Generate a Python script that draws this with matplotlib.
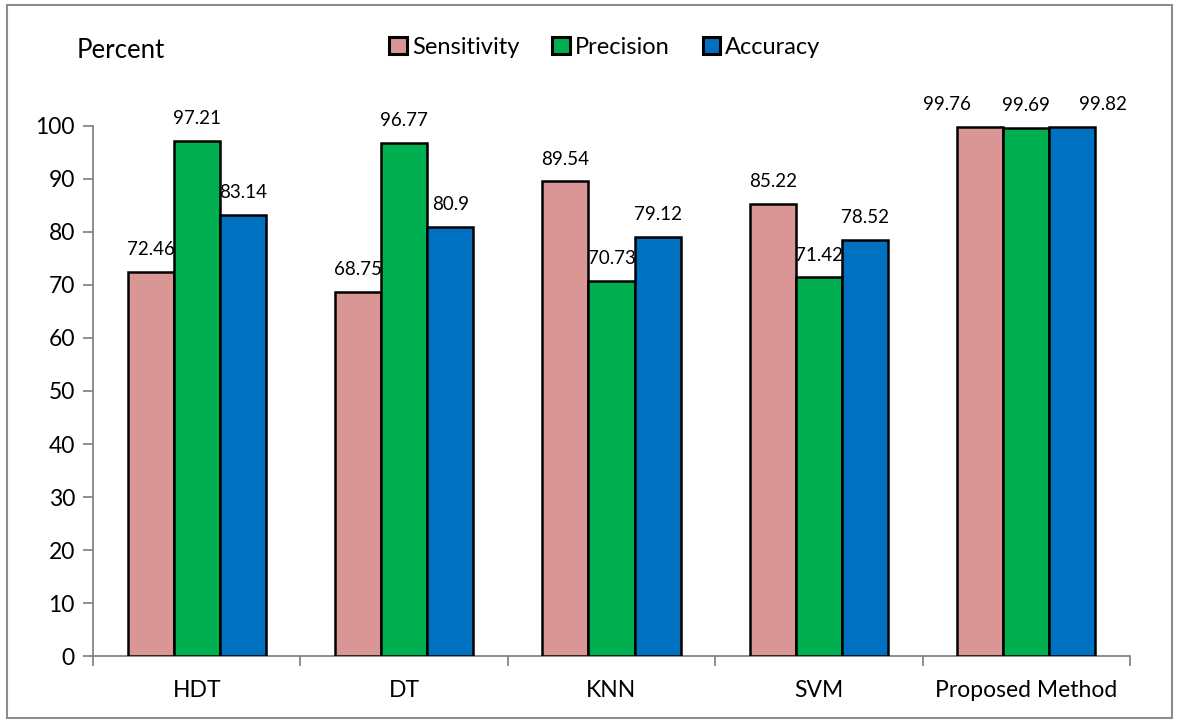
import numpy as np
import matplotlib.pyplot as plt
from matplotlib.patches import Rectangle

plt.rcParams['font.family'] = ['Lato', 'DejaVu Sans']

metodos = ['HDT', 'DT', 'KNN', 'SVM', 'Proposed Method']
sensitivity = [72.46, 68.75, 89.54, 85.22, 99.76]
precision = [97.21, 96.77, 70.73, 71.42, 99.69]
accuracy = [83.14, 80.9, 79.12, 78.52, 99.82]

series = ['Sensitivity', 'Precision', 'Accuracy']
cores = ['#D99694', '#00B050', '#0070C0']
cinza = '#868686'

# deslocamento horizontal (pt) dos rótulos no último grupo para não se sobreporem
desloc_ultimo = [-24, 0, 22]

fig = plt.figure(figsize=(11.79, 7.24), dpi=100)
# moldura da figura
fig.patches.append(Rectangle((0.006, 0.008), 0.988, 0.985, transform=fig.transFigure,
                             fill=False, edgecolor='#8C8C8C', linewidth=1.5))
ax = fig.add_axes([0.0789, 0.0939, 0.8795, 0.7321])

x = np.arange(len(metodos))
largura = 0.222
for i, (nome, valores) in enumerate(zip(series, [sensitivity, precision, accuracy])):
    pos = x + (i - 1) * largura
    barras = ax.bar(pos, valores, largura, color=cores[i], edgecolor='black',
                    linewidth=1.8, label=nome, zorder=3)
    for j, (b, v) in enumerate(zip(barras, valores)):
        dx = desloc_ultimo[i] if j == len(metodos) - 1 else 0
        ax.annotate(f'{v:g}', (b.get_x() + b.get_width() / 2, v), xytext=(dx, 10),
                    textcoords='offset points', ha='center', va='bottom',
                    fontsize=13.5, annotation_clip=False, zorder=2)

ax.set_xlim(-0.5, len(metodos) - 0.5)
ax.set_ylim(0, 100)
ax.set_yticks(range(0, 101, 10))
ax.set_xticks(x)
ax.set_xticklabels(metodos)
ax.set_xticks(np.arange(-0.5, len(metodos)), minor=True)
ax.tick_params(axis='x', which='major', length=0, pad=17, labelsize=16.5)
ax.tick_params(axis='x', which='minor', length=7, color=cinza, width=1.3)
ax.tick_params(axis='y', length=7, color=cinza, width=1.3, labelsize=16.5, pad=6)

for lado in ['top', 'right']:
    ax.spines[lado].set_visible(False)
for lado in ['left', 'bottom']:
    ax.spines[lado].set_color(cinza)
    ax.spines[lado].set_linewidth(1.3)

fig.text(0.065, 0.93, 'Percent', fontsize=18.5, va='center')
leg = fig.legend(loc='center', bbox_to_anchor=(0.513, 0.935), ncol=3, frameon=False,
                 fontsize=17, handlelength=0.75, handleheight=0.75, handletextpad=0.2,
                 columnspacing=1.4)
for h in leg.legend_handles:
    h.set_linewidth(2.2)

fig.savefig('out.png', dpi=100)
